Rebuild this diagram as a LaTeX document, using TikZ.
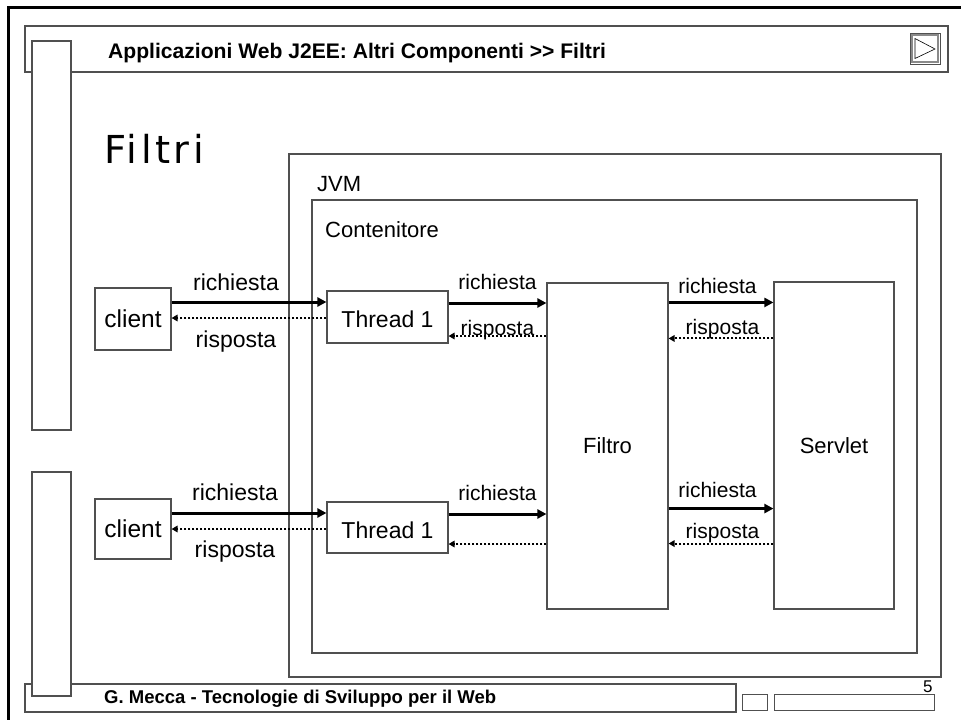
\documentclass[tikz,border=0pt]{standalone}
\usepackage{fontspec}
\setmainfont{Liberation Sans}
\newfontfamily\titlefont[LetterSpace=9]{DejaVu Sans}
\usetikzlibrary{arrows.meta}
\definecolor{boxgray}{HTML}{505050}
\definecolor{bevel}{HTML}{8A8A8A}
\begin{document}
\begin{tikzpicture}[x=1pt,y=-1pt,
  frame/.style={draw=black, line width=3pt},
  panel/.style={draw=boxgray, line width=1.2pt},
  box/.style={draw=boxgray, line width=1.1pt, fill=white, inner sep=0pt},
  req/.style={line width=3pt, -{Triangle[length=9pt,width=9pt]}},
  resp/.style={line width=2pt, dash pattern=on 2pt off 2pt, -{Triangle[length=6pt,width=6.5pt]}},
  lab/.style={font=\fontsize{23}{23}\selectfont, inner sep=0pt, anchor=base},
  slab/.style={font=\fontsize{21}{21}\selectfont, inner sep=0pt, anchor=base},
  plain/.style={inner sep=0pt, anchor=base west}]
\useasboundingbox (0,0) rectangle (961,720);
\fill[white] (0,0) rectangle (961,720);
% slide frame
\draw[frame] (8,722) -- (8,7) -- (963,7);
% header and footer bars
\draw[panel] (25,26) rectangle (948,72);
\draw[panel] (25,684) rectangle (736,712);
% left columns
\draw[panel, fill=white] (32,41) rectangle (71,430);
\draw[panel, fill=white] (32,472) rectangle (71,696);
% navigation icon
\draw[draw=boxgray, line width=1pt, fill=white] (910,33) rectangle (940,64);
\draw[draw=bevel, line width=1.5pt] (912,35) rectangle (938,62);
\draw[line width=0.6pt] (915,38.5) -- (935,49) -- (915,58.5) -- cycle;
% footer small boxes
\draw[panel, line width=1pt] (742,694) rectangle (767,710);
\draw[panel, line width=1pt] (774,694) rectangle (934,710);
% texts
\node[plain, font=\bfseries\fontsize{21.1}{21.1}\selectfont] (hdr) at (108,58.5) {Applicazioni Web J2EE: Altri Componenti >{}> Filtri};
\node[plain, font=\bfseries\fontsize{18.5}{18.5}\selectfont] (ftr) at (104,703) {G. Mecca - Tecnologie di Sviluppo per il Web};
\node[plain, font=\fontsize{17}{17}\selectfont] (pg) at (923,692) {5};
\node[plain, font=\titlefont\fontsize{38.5}{38.5}\selectfont] (title) at (104,163) {Filtri};
% containers
\node[box, minimum width=652pt, minimum height=523pt] (jvm) at (615,415.5) {};
\node[plain, font=\fontsize{22}{22}\selectfont] (jvmlab) at (317,191) {JVM};
\node[box, minimum width=605pt, minimum height=453pt] (cont) at (614.5,426.5) {};
\node[plain, font=\fontsize{22}{22}\selectfont] (contlab) at (325,237) {Contenitore};
% components
\node[box, minimum width=76pt, minimum height=62pt, font=\fontsize{24.5}{24.5}\selectfont] (c1) at (133,319) {client};
\node[box, minimum width=121pt, minimum height=52pt, font=\fontsize{23}{23}\selectfont, text height=21.5pt, text depth=0pt] (t1) at (387.5,317) {Thread 1};
\node[box, minimum width=76pt, minimum height=60pt, font=\fontsize{24.5}{24.5}\selectfont] (c2) at (133,529) {client};
\node[box, minimum width=121pt, minimum height=51pt, font=\fontsize{23}{23}\selectfont, text height=21.5pt, text depth=0pt] (t2) at (387.5,527.5) {Thread 1};
\node[box, minimum width=121pt, minimum height=326pt, font=\fontsize{22}{22}\selectfont] (filtro) at (607.5,446) {Filtro};
\node[box, minimum width=120pt, minimum height=327pt, font=\fontsize{22}{22}\selectfont] (servlet) at (834,445.5) {Servlet};
% top flow
\draw[req] ([yshift=17pt]c1.east) -- ([yshift=17pt]c1.east -| t1.west)
  node[lab, midway, yshift=12pt, xshift=-13pt] {richiesta};
\draw[resp] ([yshift=-1pt]t1.west) -- ([yshift=-1pt]t1.west -| c1.east)
  node[lab, midway, yshift=-29pt, xshift=-13pt] {risposta};
\draw[req] ([yshift=14pt]t1.east) -- ([yshift=14pt]t1.east -| filtro.west)
  node[slab, midway, yshift=14pt] {richiesta};
\draw[resp] ([yshift=-19pt]t1.east -| filtro.west) -- ([yshift=-19pt]t1.east)
  node[slab, midway, yshift=1pt] {risposta};
\draw[req] ([yshift=-20pt]filtro.north east) -- ([yshift=-20pt]filtro.north east -| servlet.west)
  node[slab, midway, yshift=9pt, xshift=-3.5pt] {richiesta};
\draw[resp] ([yshift=-56pt]filtro.north east -| servlet.west) -- ([yshift=-56pt]filtro.north east)
  node[slab, midway, yshift=4pt, xshift=1.5pt] {risposta};
% bottom flow
\draw[req] ([yshift=16pt]c2.east) -- ([yshift=16pt]c2.east -| t2.west)
  node[lab, midway, yshift=13pt, xshift=-14pt] {richiesta};
\draw[resp] (t2.west |- c2.east) -- (c2.east)
  node[lab, midway, yshift=-28pt, xshift=-14pt] {risposta};
\draw[req] ([yshift=13.5pt]t2.east) -- ([yshift=13.5pt]t2.east -| filtro.west)
  node[slab, midway, yshift=14pt] {richiesta};
\draw[resp] ([yshift=-16.5pt]t2.east -| filtro.west) -- ([yshift=-16.5pt]t2.east);
\draw[req] ([yshift=101pt]filtro.south east) -- ([yshift=101pt]filtro.south east -| servlet.west)
  node[slab, midway, yshift=11pt, xshift=-3.5pt] {richiesta};
\draw[resp] ([yshift=66pt]filtro.south east -| servlet.west) -- ([yshift=66pt]filtro.south east)
  node[slab, midway, yshift=5pt, xshift=1.5pt] {risposta};
\end{tikzpicture}
\end{document}
